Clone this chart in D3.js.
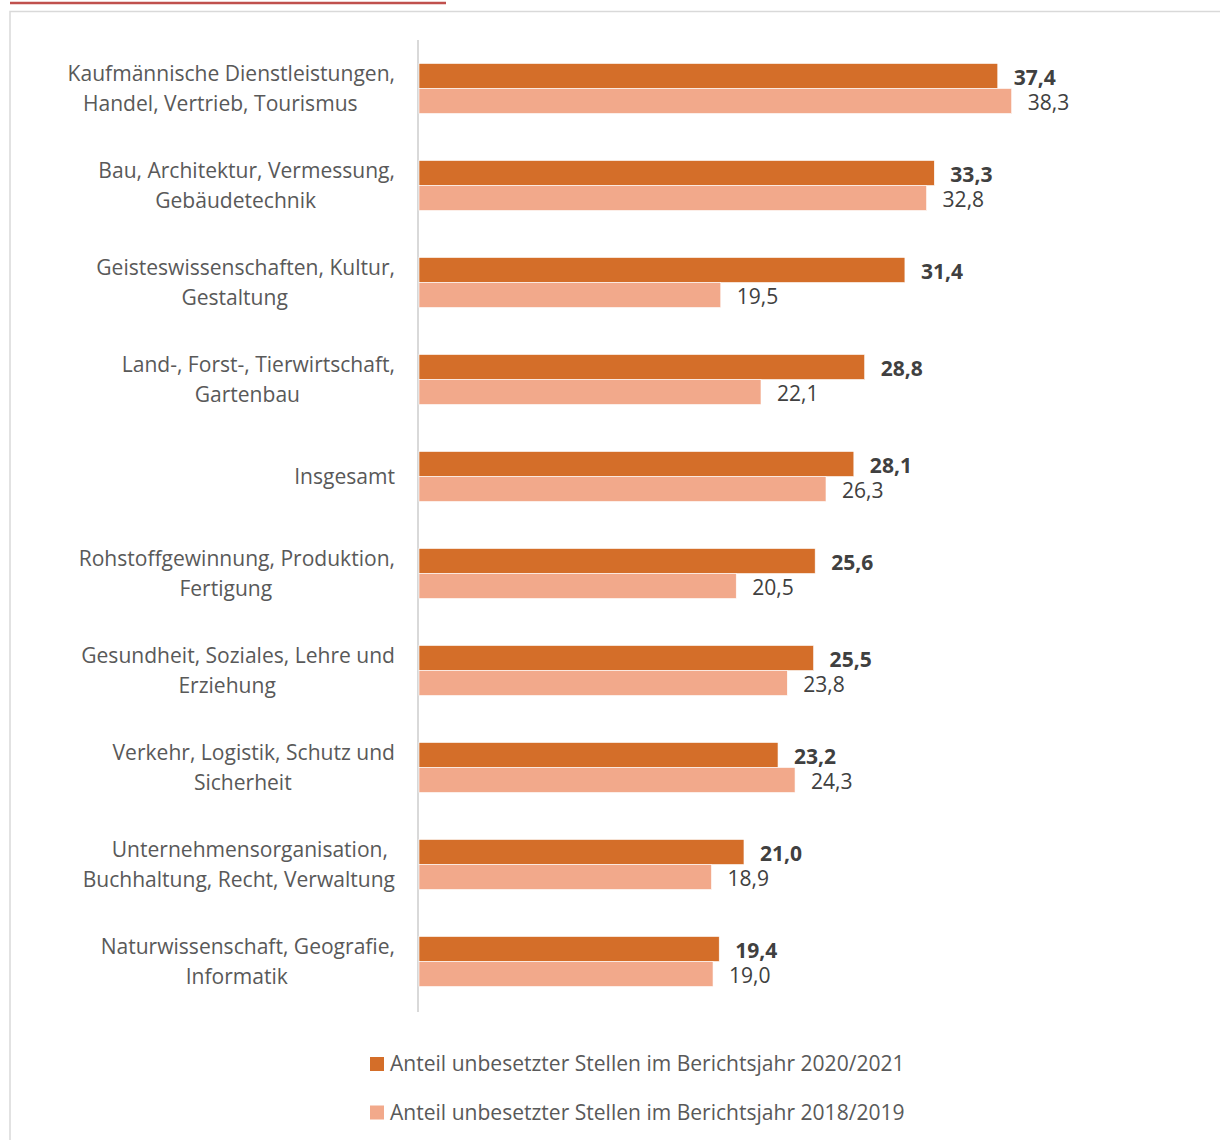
<!DOCTYPE html>
<html>
<head>
<meta charset="utf-8">
<script src="https://cdn.jsdelivr.net/npm/d3@7"></script>
<style>
  body { margin: 0; background: #fff; }
  text { font-family: "Open Sans", Lato, sans-serif; }
</style>
</head>
<body>
<div id="chart"></div>
<script>
// Unbesetzte Stellen nach Berufsbereich (Anteil in %)
const categories = [
  ["Kaufmännische Dienstleistungen,", "Handel, Vertrieb, Tourismus"],
  ["Bau, Architektur, Vermessung,", "Gebäudetechnik"],
  ["Geisteswissenschaften, Kultur,", "Gestaltung"],
  ["Land-, Forst-, Tierwirtschaft,", "Gartenbau"],
  ["Insgesamt"],
  ["Rohstoffgewinnung, Produktion,", "Fertigung"],
  ["Gesundheit, Soziales, Lehre und", "Erziehung"],
  ["Verkehr, Logistik, Schutz und", "Sicherheit"],
  ["Unternehmensorganisation,", "Buchhaltung, Recht, Verwaltung"],
  ["Naturwissenschaft, Geografie,", "Informatik"]
];
const values2021 = [37.4, 33.3, 31.4, 28.8, 28.1, 25.6, 25.5, 23.2, 21.0, 19.4];
const values2019 = [38.3, 32.8, 19.5, 22.1, 26.3, 20.5, 23.8, 24.3, 18.9, 19.0];
const seriesNames = [
  "Anteil unbesetzter Stellen im Berichtsjahr 2020/2021",
  "Anteil unbesetzter Stellen im Berichtsjahr 2018/2019"
];
const colors = ["#D46E29", "#F2A98B"];

const width = 1220, height = 1140;
const plot = { left: 419, top: 40, bottom: 1010 };
const fmt = v => d3.format(".1f")(v).replace(".", ",");

const svg = d3.select("#chart").append("svg")
  .attr("width", width).attr("height", height);

// pick a font size so the legend text is as wide as in the original (Calibri)
const probe = svg.append("text").style("font-size", "20px").text(seriesNames[0]);
const fs = 20 * 515 / probe.node().getComputedTextLength();
probe.remove();
const fontSize = fs + "px";

// frame + red accent line
svg.append("line").attr("x1", 10).attr("x2", 446).attr("y1", 3).attr("y2", 3)
  .attr("stroke", "#C0504D").attr("stroke-width", 2.5);
svg.append("path").attr("d", `M10,${height} V11.5 H${width}`)
  .attr("fill", "none").attr("stroke", "#d9d9d9").attr("stroke-width", 1.5);

const x = d3.scaleLinear().domain([0, 40]).range([plot.left, plot.left + 619]);
const y = d3.scaleBand().domain(d3.range(categories.length))
  .range([plot.top, plot.bottom]);
const barH = 25;

// category axis line
svg.append("line").attr("x1", plot.left - 1).attr("x2", plot.left - 1)
  .attr("y1", plot.top).attr("y2", plot.bottom + 2)
  .attr("stroke", "#d9d9d9").attr("stroke-width", 2);

const series = [values2021, values2019];
series.forEach((vals, si) => {
  const g = svg.append("g");
  g.selectAll("rect").data(vals).join("rect")
    .attr("x", x(0))
    .attr("y", (d, i) => y(i) + y.bandwidth() / 2 - barH + si * barH)
    .attr("width", d => x(d) - x(0))
    .attr("height", barH)
    .attr("fill", colors[si])
    .attr("stroke", "#fff").attr("stroke-width", 0.6);
  g.selectAll("text").data(vals).join("text")
    .attr("x", d => x(d) + 16)
    .attr("y", (d, i) => y(i) + y.bandwidth() / 2 - barH / 2 + si * barH + 1.5)
    .attr("dy", "0.35em")
    .style("font-size", fontSize)
    .style("font-weight", si === 0 ? "bold" : "normal")
    .style("fill", "#404040")
    .text(fmt);
});

// category labels
const labelRight = 395;
categories.forEach((lines, i) => {
  const cy = y(i) + y.bandwidth() / 2;
  const g = svg.append("g");
  const texts = lines.map((t, li) => g.append("text")
    .attr("y", lines.length === 1 ? cy : cy + (li === 0 ? -15 : 15))
    .attr("dy", "0.35em")
    .attr("text-anchor", "middle")
    .style("font-size", fontSize)
    .style("fill", "#595959")
    .text(t));
  if (lines.length === 1) {
    texts[0].attr("text-anchor", "end").attr("x", labelRight);
  } else {
    const w1 = texts[0].node().getComputedTextLength();
    const w2 = texts[1].node().getComputedTextLength();
    const c = labelRight - Math.max(5.5 + w1 / 2, -5.5 + w2 / 2);
    texts[0].attr("x", c + 5.5);
    texts[1].attr("x", c - 5.5);
  }
});

// legend
const legend = svg.append("g");
seriesNames.forEach((name, i) => {
  const ly = 1064 + i * 48.5;
  legend.append("rect").attr("x", 370).attr("y", ly - 7)
    .attr("width", 14).attr("height", 14).attr("fill", colors[i]);
  legend.append("text").attr("x", 390).attr("y", ly).attr("dy", "0.35em")
    .style("font-size", fontSize).style("fill", "#595959").text(name);
});
</script>
</body>
</html>
